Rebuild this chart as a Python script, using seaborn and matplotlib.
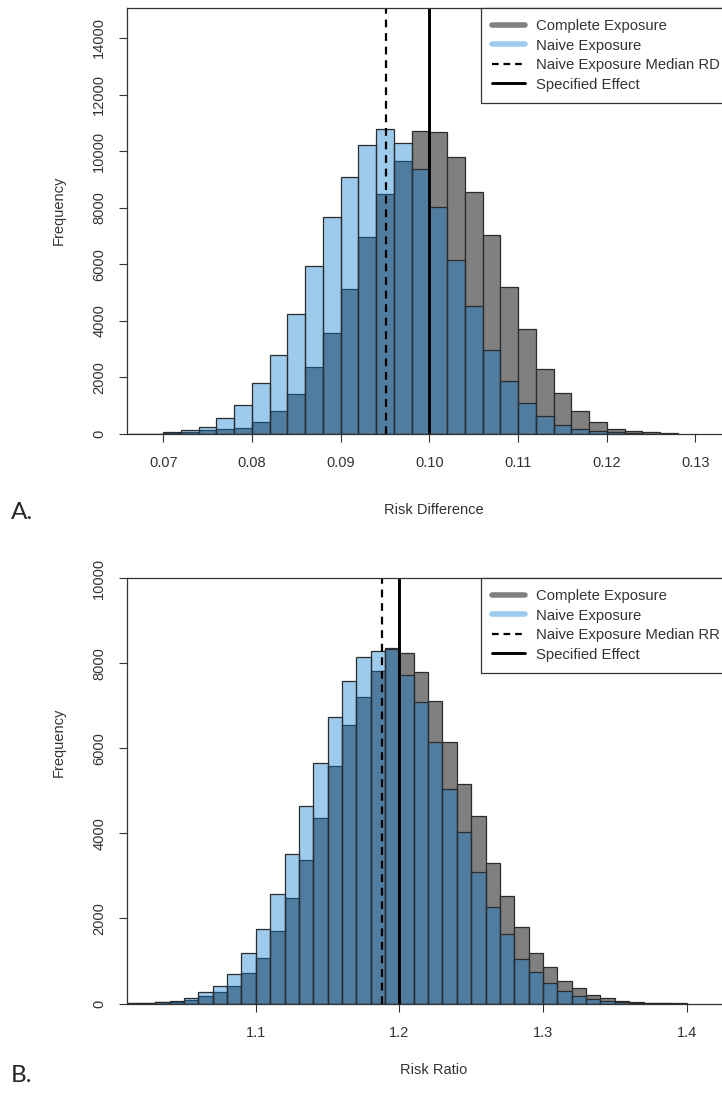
import numpy as np
import pandas as pd
import matplotlib
matplotlib.use("Agg")
import matplotlib.pyplot as plt
from matplotlib.lines import Line2D
import seaborn as sns

# Panel A: risk difference, bins of width 0.002 starting at 0.066
rd_left = [0.066, 0.068, 0.070, 0.072, 0.074, 0.076, 0.078, 0.080, 0.082, 0.084,
           0.086, 0.088, 0.090, 0.092, 0.094, 0.096, 0.098, 0.100, 0.102, 0.104,
           0.106, 0.108, 0.110, 0.112, 0.114, 0.116, 0.118, 0.120, 0.122, 0.124,
           0.126]
rd_complete = [5, 10, 40, 70, 140, 190, 225, 440, 820, 1400,
               2380, 3560, 5120, 6960, 8500, 9660, 10700, 10680, 9780, 8570,
               7020, 5200, 3700, 2290, 1440, 826, 437, 190, 95, 60,
               25]
rd_naive = [5, 15, 70, 140, 260, 555, 1030, 1790, 2790, 4230,
            5940, 7680, 9100, 10230, 10770, 10290, 9360, 8010, 6140, 4530,
            2980, 1880, 1090, 650, 320, 165, 110, 60, 25, 5,
            0]
rd_width = 0.002
rd_median = 0.0951
rd_effect = 0.10

# Panel B: risk ratio, bins of width 0.01 starting at 1.01
rr_left = [1.01, 1.02, 1.03, 1.04, 1.05, 1.06, 1.07, 1.08, 1.09, 1.10,
           1.11, 1.12, 1.13, 1.14, 1.15, 1.16, 1.17, 1.18, 1.19, 1.20,
           1.21, 1.22, 1.23, 1.24, 1.25, 1.26, 1.27, 1.28, 1.29, 1.30,
           1.31, 1.32, 1.33, 1.34, 1.35, 1.36, 1.37, 1.38, 1.39]
rr_complete = [10, 15, 25, 40, 80, 170, 260, 410, 720, 1078,
               1714, 2475, 3377, 4357, 5589, 6553, 7212, 7824, 8358, 8240,
               7793, 7102, 6146, 5157, 4396, 3313, 2529, 1807, 1196, 866,
               530, 372, 200, 122, 55, 30, 15, 8, 5]
rr_naive = [10, 20, 30, 70, 140, 265, 415, 700, 1190, 1753,
            2569, 3518, 4631, 5652, 6726, 7573, 8138, 8294, 8340, 7730,
            7094, 6146, 5047, 4035, 3087, 2278, 1628, 1054, 749, 475,
            302, 177, 98, 55, 25, 12, 5, 2, 0]
rr_width = 0.01
rr_median = 1.188
rr_effect = 1.20

GRAY = "#808080"
BLUE = (0.02, 0.47, 0.815)
BLUE_ALPHA = 0.39
LIGHT_BLUE = "#9dcbee"

sns.set_theme(style="white")
plt.rcParams["font.family"] = ["Liberation Sans", "DejaVu Sans"]

W, H = 722, 1094
fig = plt.figure(figsize=(W / 100, H / 100), dpi=100)


def px_axes(left, top, right, bottom):
    return fig.add_axes([left / W, 1 - bottom / H, (right - left) / W, (bottom - top) / H])


def draw_panel(ax, left, complete, naive, width, median, effect, median_label):
    edges = [round(v, 4) for v in list(left) + [left[-1] + width]]
    centers = [v + width / 2 for v in left]
    df = pd.DataFrame({"x": centers, "complete": complete, "naive": naive})
    sns.histplot(data=df, x="x", weights="complete", bins=edges, color=GRAY,
                 alpha=1.0, edgecolor="#2b2b2b", linewidth=0.9, ax=ax)
    sns.histplot(data=df, x="x", weights="naive", bins=edges, color=BLUE,
                 alpha=BLUE_ALPHA, edgecolor="#2b2b2b", linewidth=0.9, ax=ax)
    ax.axvline(median, color="black", lw=1.6, ls=(0, (3.5, 2.6)))
    ax.axvline(effect, color="black", lw=2.1)

    for s in ax.spines.values():
        s.set_color("#333333")
        s.set_linewidth(0.9)
    ax.tick_params(axis="both", which="both", direction="out", length=6, width=0.8,
                   color="#333333", labelsize=10.5, labelcolor="#333333",
                   bottom=True, left=True)
    ax.tick_params(axis="x", pad=10)
    ax.tick_params(axis="y", pad=9)

    handles = [
        Line2D([], [], color=GRAY, lw=4),
        Line2D([], [], color=LIGHT_BLUE, lw=4),
        Line2D([], [], color="black", lw=1.6, ls=(0, (3.0, 2.2))),
        Line2D([], [], color="black", lw=2.1),
    ]
    labels = ["Complete Exposure", "Naive Exposure", median_label, "Specified Effect"]
    return handles, labels


def add_legend(handles, labels, top):
    leg = fig.legend(handles, labels, loc="upper left",
                     bbox_to_anchor=(481 / W, 1 - top / H), borderaxespad=0,
                     frameon=True, fancybox=False, edgecolor="#333333", framealpha=1,
                     fontsize=10.7, handlelength=2.2, handletextpad=0.75,
                     labelspacing=0.37, borderpad=0.75, labelcolor="#333333")
    leg.get_frame().set_linewidth(0.9)
    return leg


# ---- Panel A
axA = px_axes(127, 8, 740, 434)
hA, lA = draw_panel(axA, rd_left, rd_complete, rd_naive, rd_width, rd_median,
                    rd_effect, "Naive Exposure Median RD")
axA.set_xlim(0.06591, 0.13502)
axA.set_ylim(0, 15060)
axA.set_xticks([0.07, 0.08, 0.09, 0.10, 0.11, 0.12, 0.13])
axA.set_xticklabels(["0.07", "0.08", "0.09", "0.10", "0.11", "0.12", "0.13"])
axA.set_yticks(range(0, 14001, 2000))
axA.set_yticklabels([str(v) for v in range(0, 14001, 2000)], rotation=90, va="center")
axA.set_xlabel("Risk Difference", fontsize=10.5, color="#333333", labelpad=23.5)
axA.set_ylabel("Frequency", fontsize=10.5, color="#333333")
axA.yaxis.set_label_coords(-0.0995, 0.526)
add_legend(hA, lA, 8)

# ---- Panel B
axB = px_axes(127, 578, 740, 1003.5)
hB, lB = draw_panel(axB, rr_left, rr_complete, rr_naive, rr_width, rr_median,
                    rr_effect, "Naive Exposure Median RR")
axB.set_xlim(1.0103, 1.4372)
axB.set_ylim(0, 10000)
axB.set_xticks([1.1, 1.2, 1.3, 1.4])
axB.set_xticklabels(["1.1", "1.2", "1.3", "1.4"])
axB.set_yticks(range(0, 10001, 2000))
axB.set_yticklabels([str(v) for v in range(0, 10001, 2000)], rotation=90, va="center")
axB.set_xlabel("Risk Ratio", fontsize=10.5, color="#333333", labelpad=17)
axB.set_ylabel("Frequency", fontsize=10.5, color="#333333")
axB.yaxis.set_label_coords(-0.0995, 0.615)
add_legend(hB, lB, 578)

# panel letters
fig.text(11 / W, 1 - 512 / H, "A.", fontsize=17.5, family=["Lato", "DejaVu Sans"],
         va="center", ha="left")
fig.text(11 / W, 1 - 1075 / H, "B.", fontsize=17.5, family=["Lato", "DejaVu Sans"],
         va="center", ha="left")

fig.savefig("out.png", dpi=100)
